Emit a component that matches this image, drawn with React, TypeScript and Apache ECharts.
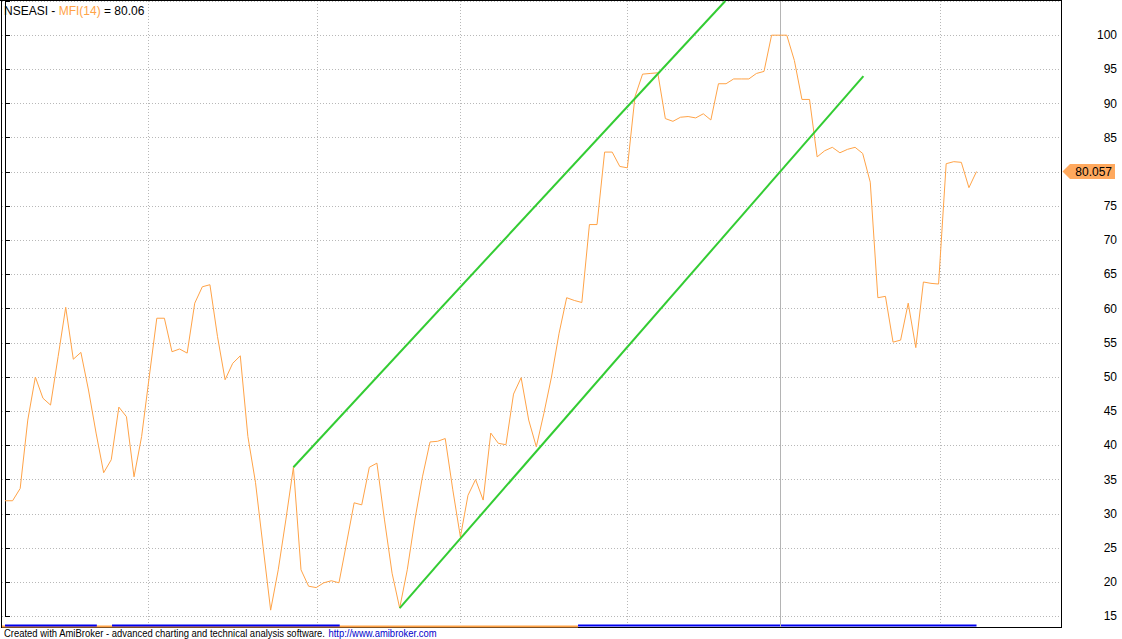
import React, { useEffect, useRef } from "react";
import * as echarts from "echarts";

// MFI(14) values, one per bar
const mfiValues: number[] = [
  31.9, 31.9, 33.7, 43.7, 50.0, 46.9, 45.9, 53.0, 60.2, 52.6,
  53.6, 48.1, 41.8, 36.0, 37.9, 45.6, 44.2, 35.4, 41.3, 50.0,
  58.6, 58.6, 53.7, 54.1, 53.5, 60.8, 63.2, 63.5, 55.9, 49.6,
  52.0, 53.1, 41.3, 34.6, 25.2, 15.9, 21.8, 29.1, 36.8, 21.8,
  19.4, 19.2, 19.9, 20.2, 19.9, 25.7, 31.6, 31.3, 36.8, 37.4,
  29.1, 21.3, 16.2, 21.8, 29.1, 35.4, 40.5, 40.6, 41.0, 33.5,
  26.6, 32.7, 35.0, 32.0, 41.8, 40.3, 40.1, 47.5, 49.9, 43.7,
  39.8, 44.7, 50.0, 56.4, 61.6, 61.2, 60.9, 72.3, 72.3, 82.9,
  82.9, 80.8, 80.6, 91.0, 94.3, 94.4, 94.5, 87.8, 87.4, 88.0,
  88.1, 87.9, 88.5, 87.6, 92.9, 92.9, 93.6, 93.6, 93.6, 94.4,
  94.7, 100, 100, 100, 96.3, 90.6, 90.6, 82.2, 83.1, 83.6,
  82.8, 83.3, 83.6, 82.7, 78.5, 61.6, 61.8, 55.1, 55.4, 60.8,
  54.3, 63.9, 63.7, 63.6, 81.2, 81.5, 81.4, 77.7, 80.057,
];

const lastValue = 80.057;
const symbolName = "NSEASI";
const indicatorName = "MFI(14)";

// trendlines: [bar, value]
const upperTrend: number[][] = [[38, 36.8], [94.9, 105]];
const lowerTrend: number[][] = [[52, 16.2], [113.1, 94.0]];

// month separators (bar positions)
const monthLines: number[] = [18.85, 41.1, 59.95, 81.95, 123.2];
const selectedBar = 102.1;

// y axis range
const yMin = 15;
const yMax = 105;
const yStep = 5;
const yLabelMax = 100;

// bottom ribbon segments in bar units
const ribbonBlue: number[][] = [[0, 12.1], [14.1, 44.1], [75.5, 128]];
const ribbonOrange: number[] = [-0.4, 75.5];

const ORANGE = "#ffa347";
const GREEN = "#33cc33";

export default function App() {
  const ref = useRef<HTMLDivElement>(null);

  useEffect(() => {
    if (!ref.current) return;
    const chart = echarts.init(ref.current, null, { renderer: "svg" });
    const font = "Arial, 'Liberation Sans', sans-serif";
    // the axis label hidden behind the last-value box
    const coveredTick = Math.round(lastValue / yStep) * yStep;

    const option: any = {
      animation: false,
      backgroundColor: "#ffffff",
      grid: { left: 2, right: 61, top: 1, bottom: 22.7, containLabel: false },
      xAxis: {
        type: "value",
        min: -0.395,
        max: 139.13,
        show: true,
        axisLine: { show: false },
        axisTick: { show: false },
        axisLabel: { show: false },
        splitLine: { show: false },
      },
      yAxis: {
        type: "value",
        position: "right",
        min: yMin,
        max: yMax,
        interval: yStep,
        axisLine: { show: true, lineStyle: { color: "#000", width: 1 } },
        axisTick: { show: true, inside: false, length: 5, lineStyle: { color: "#000" } },
        axisLabel: {
          show: true,
          align: "right",
          margin: 56,
          color: "#000",
          fontFamily: font,
          fontSize: 12,
          formatter: (v: number) => (v > yLabelMax || v === coveredTick ? "" : String(v)),
        },
        splitLine: {
          show: true,
          lineStyle: { color: "#b8b8b8", type: [1, 2], width: 1 },
        },
      },
      series: [
        {
          type: "line",
          data: mfiValues.map((v, i) => [i, v]),
          symbol: "none",
          lineStyle: { color: ORANGE, width: 1 },
          z: 3,
        },
        {
          type: "line",
          data: upperTrend,
          symbol: "none",
          lineStyle: { color: GREEN, width: 2 },
          z: 4,
        },
        {
          type: "line",
          data: lowerTrend,
          symbol: "none",
          lineStyle: { color: GREEN, width: 2 },
          z: 4,
        },
      ],
    };
    chart.setOption(option);

    const px = (b: number) => chart.convertToPixel({ xAxisIndex: 0 }, b) as number;
    const py = (v: number) => chart.convertToPixel({ yAxisIndex: 0 }, v) as number;
    const yLast = py(lastValue);
    const gridRight = 1061;
    const ribbonY = 624.5;
    const snap = (v: number) => Math.round(v) + 0.5;

    const graphic: any[] = [
      // month separators through the full plot height
      ...monthLines.map((b) => ({
        type: "line",
        z: 1,
        shape: { x1: snap(px(b)), y1: 1, x2: snap(px(b)), y2: 624 },
        style: { stroke: "#b8b8b8", lineWidth: 1, lineDash: [1, 2] },
      })),
      {
        type: "line",
        z: 1,
        shape: { x1: snap(px(selectedBar)), y1: 1, x2: snap(px(selectedBar)), y2: 627 },
        style: { stroke: "#b4b4b4", lineWidth: 1 },
      },
      // plot frame
      { type: "line", shape: { x1: 0, y1: 0.5, x2: gridRight, y2: 0.5 }, style: { stroke: "#000", lineWidth: 1 } },
      { type: "line", shape: { x1: 1.5, y1: 0, x2: 1.5, y2: 628 }, style: { stroke: "#000", lineWidth: 1 } },
      { type: "line", shape: { x1: 1, y1: 627.5, x2: gridRight, y2: 627.5 }, style: { stroke: "#000", lineWidth: 1 } },
      { type: "line", shape: { x1: gridRight + 0.5, y1: 0, x2: gridRight + 0.5, y2: 628 }, style: { stroke: "#000", lineWidth: 1 } },
      // ribbon
      {
        type: "rect",
        shape: { x: px(ribbonOrange[0]), y: ribbonY + 1, width: px(ribbonOrange[1]) - px(ribbonOrange[0]), height: 2 },
        style: { fill: ORANGE },
      },
      ...ribbonBlue.map((s) => ({
        type: "rect",
        shape: { x: px(s[0]), y: ribbonY, width: px(s[1]) - px(s[0]), height: 2 },
        style: { fill: "#0000ee" },
      })),
      // last value label
      {
        type: "polygon",
        shape: {
          points: [
            [1062.5, yLast],
            [1070, yLast - 7.5],
            [1115, yLast - 7.5],
            [1115, yLast + 7.5],
            [1070, yLast + 7.5],
          ],
        },
        style: { fill: "#ffa95e" },
        z: 10,
      },
      {
        type: "text",
        x: 1112,
        y: yLast,
        style: {
          text: lastValue.toFixed(3),
          fill: "#000",
          font: `12px ${font}`,
          textAlign: "right",
          textVerticalAlign: "middle",
        },
        z: 11,
      },
      // title
      {
        type: "text",
        x: 4,
        y: 11,
        style: {
          text: `{a|${symbolName} - }{b|${indicatorName}}{a| = ${lastValue.toFixed(2)}}`,
          textVerticalAlign: "middle",
          rich: {
            a: { fill: "#000", font: `12px ${font}` },
            b: { fill: ORANGE, font: `12px ${font}` },
          },
        },
        z: 12,
      },
      // footer
      {
        type: "text",
        x: 4,
        y: 633,
        scaleX: 0.86,
        style: {
          text: "{a|Created with AmiBroker - advanced charting and technical analysis software. }{b|http://www.amibroker.com}",
          textVerticalAlign: "middle",
          rich: {
            a: { fill: "#000", font: `11px ${font}` },
            b: { fill: "#0000cc", font: `11px ${font}` },
          },
        },
        z: 12,
      },
    ];
    chart.setOption({ graphic });

    return () => chart.dispose();
  }, []);

  return (
    <div
      ref={ref}
      style={{ position: "fixed", left: 0, top: 0, width: 1122, height: 639, background: "#fff" }}
    />
  );
}
